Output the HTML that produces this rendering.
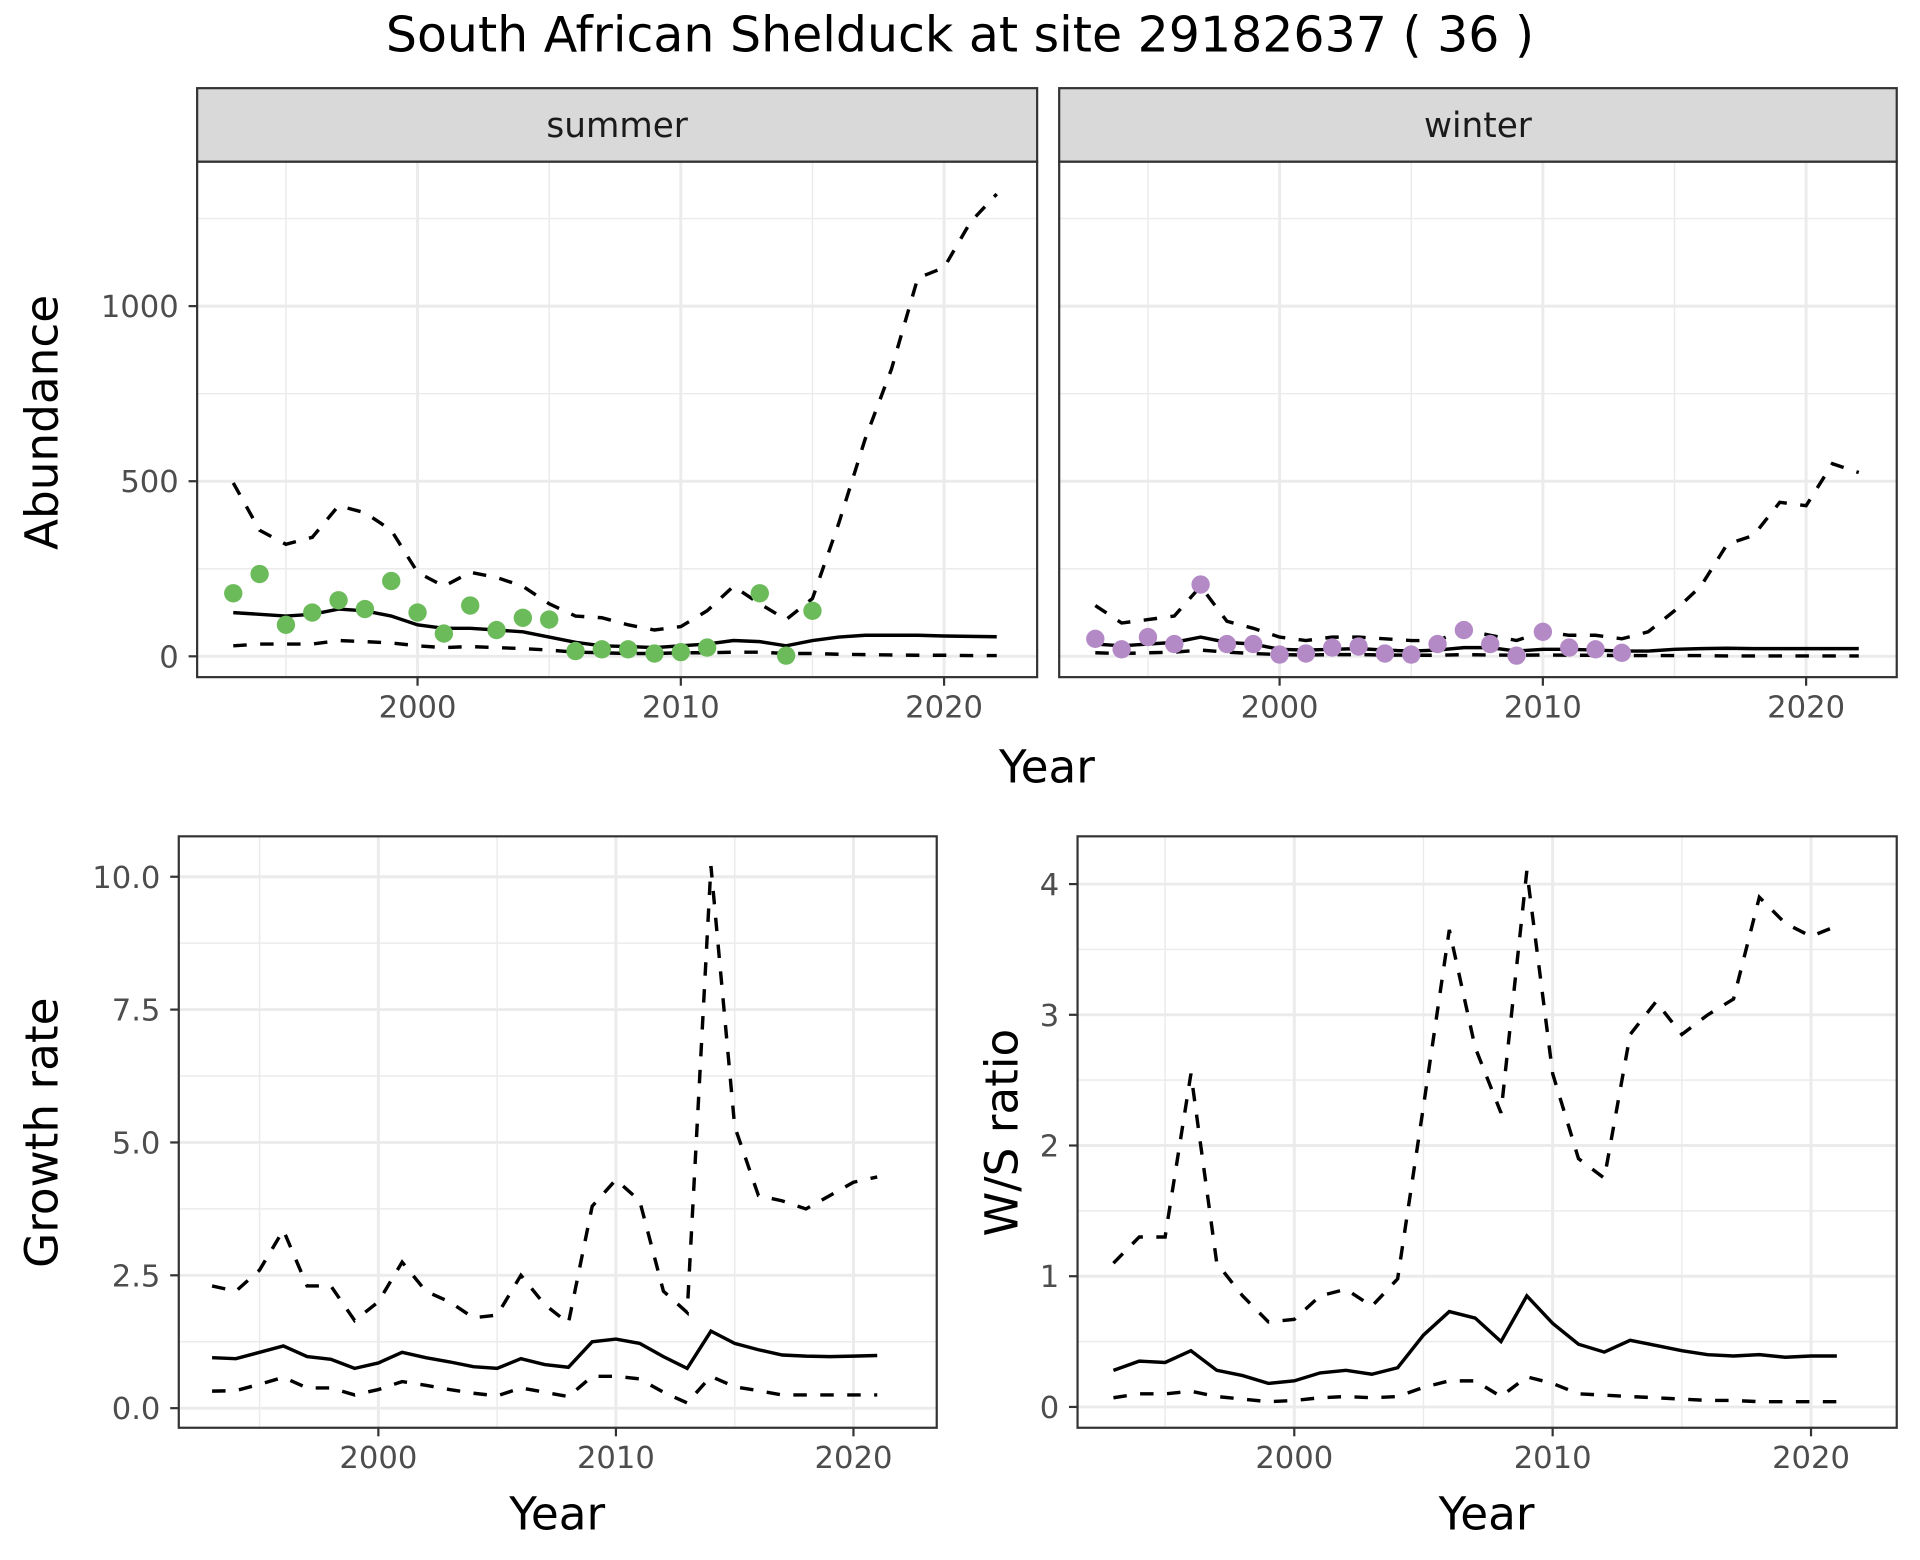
<!DOCTYPE html>
<html><head><meta charset="utf-8"><style>
html,body{margin:0;padding:0;background:#fff;}
svg{display:block;font-family:"DejaVu Sans","Liberation Sans",sans-serif;}
</style></head><body>
<svg id="chart" width="1920" height="1560" viewBox="0 0 1568 1274" xmlns="http://www.w3.org/2000/svg">
<text x="784" y="42" text-anchor="middle" font-size="40" fill="#000">South African Shelduck at site 29182637 ( 36 )</text>
</svg>
<script>
const yearsFull = [1993,1994,1995,1996,1997,1998,1999,2000,2001,2002,2003,2004,2005,2006,2007,2008,2009,2010,2011,2012,2013,2014,2015,2016,2017,2018,2019,2020,2021,2022];
const summerPtYears = [1993,1994,1995,1996,1997,1998,1999,2000,2001,2002,2003,2004,2005,2006,2007,2008,2009,2010,2011,2013,2014,2015];
const summerPtVals = [180,235,90,125,160,135,215,125,65,145,75,110,105,15,20,20,8,12,25,180,2,130];
const summerMean = [125,120,115,120,135,130,115,90,80,80,75,70,55,40,30,28,25,30,35,45,42,30,45,55,60,60,60,58,57,56];
const summerUpper = [495,360,320,340,430,410,360,240,200,240,225,200,150,115,110,90,75,85,130,200,150,105,165,380,620,820,1080,1110,1240,1320];
const summerLower = [30,35,35,35,45,42,38,30,25,28,25,22,18,12,10,8,8,10,10,12,12,8,8,6,5,4,3,3,2,2];
const winterPtYears = [1993,1994,1995,1996,1997,1998,1999,2000,2001,2002,2003,2004,2005,2006,2007,2008,2009,2010,2011,2012,2013];
const winterPtVals = [50,20,55,35,205,35,35,5,8,25,28,8,5,35,75,35,2,70,25,20,10];
const winterMean = [35,30,35,40,55,40,35,20,18,20,22,18,15,18,25,25,15,20,20,18,15,15,20,22,23,22,22,22,22,22];
const winterUpper = [145,95,105,115,200,100,80,55,45,55,55,50,45,45,75,60,45,70,60,60,50,70,130,200,320,345,440,430,550,525];
const winterLower = [10,8,10,12,18,12,8,5,4,5,5,4,3,3,5,4,3,4,3,3,2,2,2,2,1,1,1,1,1,1];
const yearsRate = [1993,1994,1995,1996,1997,1998,1999,2000,2001,2002,2003,2004,2005,2006,2007,2008,2009,2010,2011,2012,2013,2014,2015,2016,2017,2018,2019,2020,2021];
const growthMean = [0.95,0.93,1.05,1.17,0.97,0.92,0.75,0.85,1.05,0.95,0.87,0.78,0.75,0.93,0.82,0.77,1.25,1.3,1.22,0.97,0.75,1.45,1.22,1.1,1.0,0.98,0.97,0.98,0.99];
const growthUpper = [2.3,2.2,2.6,3.35,2.3,2.3,1.65,2.0,2.75,2.2,2.0,1.7,1.75,2.5,1.95,1.6,3.8,4.3,3.9,2.2,1.8,10.2,5.3,4.0,3.9,3.75,4.0,4.25,4.35];
const growthLower = [0.32,0.33,0.45,0.58,0.38,0.38,0.25,0.35,0.5,0.43,0.35,0.28,0.23,0.38,0.3,0.22,0.6,0.6,0.55,0.3,0.1,0.6,0.4,0.33,0.25,0.25,0.25,0.25,0.25];
const ratioMean = [0.28,0.35,0.34,0.43,0.28,0.24,0.18,0.2,0.26,0.28,0.25,0.3,0.55,0.73,0.68,0.5,0.85,0.64,0.48,0.42,0.51,0.47,0.43,0.4,0.39,0.4,0.38,0.39,0.39];
const ratioUpper = [1.1,1.3,1.3,2.55,1.1,0.85,0.65,0.67,0.85,0.9,0.77,0.98,2.3,3.65,2.75,2.25,4.1,2.55,1.9,1.75,2.85,3.1,2.85,3.0,3.12,3.9,3.7,3.6,3.68];
const ratioLower = [0.07,0.1,0.1,0.12,0.08,0.06,0.04,0.05,0.07,0.08,0.07,0.08,0.15,0.2,0.2,0.08,0.23,0.18,0.1,0.09,0.08,0.07,0.06,0.05,0.05,0.04,0.04,0.04,0.04];
const xTicks = [2000,2010,2020];
const xMinor = [1995,2005,2015];
const abundTicks = [0,500,1000];
const abundMinor = [250,750,1250];
const growthTicks = [0,2.5,5,7.5,10];
const growthTickLabels = ["0.0","2.5","5.0","7.5","10.0"];
const ratioTicks = [0,1,2,3,4];

const svg = document.getElementById('chart');
const NS = 'http://www.w3.org/2000/svg';
function el(tag, attrs, parent){const e=document.createElementNS(NS,tag);for(const k in attrs)e.setAttribute(k,attrs[k]);(parent||svg).appendChild(e);return e;}
function lin(d0,d1,r0,r1){return v=>r0+(v-d0)*(r1-r0)/(d1-d0);}

function panel(o){
  const g=el('g',{});
  
  
  const x=lin(2000,2010,o.x2000,o.x2010), y=lin(o.yv0,o.yv1,o.yp0,o.yp1);
  o.yMinor.forEach(v=>{el('line',{x1:o.L,x2:o.R,y1:y(v),y2:y(v),stroke:'#ebebeb','stroke-width':1.2},g);});
  xMinor.forEach(v=>{el('line',{x1:x(v),x2:x(v),y1:o.T,y2:o.B,stroke:'#ebebeb','stroke-width':1.2},g);});
  o.yTicks.forEach(v=>{el('line',{x1:o.L,x2:o.R,y1:y(v),y2:y(v),stroke:'#ebebeb','stroke-width':2.4},g);});
  xTicks.forEach(v=>{el('line',{x1:x(v),x2:x(v),y1:o.T,y2:o.B,stroke:'#ebebeb','stroke-width':2.4},g);});
  const path=(xs,ys,dash,name)=>{const p=el('path',{d:xs.map((xx,i)=>(i?'L':'M')+x(xx).toFixed(1)+','+y(ys[i]).toFixed(1)).join(''),fill:'none',stroke:'#000','stroke-width':2.8,'stroke-dasharray':dash?'11,11':'none'},g);
    
    };
  path(o.xs,o.upper,true,o.name+'-upper-line');
  path(o.xs,o.lower,true,o.name+'-lower-line');
  path(o.xs,o.mean,false,o.name+'-mean-line');
  if(o.ptX){o.ptX.forEach((yy,i)=>{const c=el('circle',{cx:x(yy),cy:y(o.ptV[i]),r:7.5,fill:o.ptColor},g);
    
    });}
  el('rect',{x:o.L,y:o.T,width:o.R-o.L,height:o.B-o.T,fill:'none',stroke:'#333','stroke-width':1.8},g);
  if(o.showY){o.yTicks.forEach((v,i)=>{el('line',{x1:o.L-7,x2:o.L,y1:y(v),y2:y(v),stroke:'#333','stroke-width':1.8},g);
    const t=el('text',{x:o.L-15,y:y(v)+9,'text-anchor':'end','font-size':25,fill:'#4d4d4d'},g);t.textContent=o.yLabels?o.yLabels[i]:v;});}
  xTicks.forEach(v=>{el('line',{x1:x(v),x2:x(v),y1:o.B,y2:o.B+7,stroke:'#333','stroke-width':1.8},g);
    const t=el('text',{x:x(v),y:o.B+33,'text-anchor':'middle','font-size':25,fill:'#4d4d4d'},g);t.textContent=v;});
  if(o.strip){const s=el('rect',{x:o.L,y:72,width:o.R-o.L,height:o.T-72,fill:'#d9d9d9',stroke:'#333','stroke-width':1.8},g);
    
    
    const t=el('text',{x:(o.L+o.R)/2,y:112,'text-anchor':'middle','font-size':28,fill:'#1a1a1a'},g);t.textContent=o.strip;}
}
panel({name:'summer-panel',L:161,R:847,T:132,B:553,x2000:341,x2010:556,yv0:0,yv1:1000,yp0:536,yp1:250,yTicks:abundTicks,yMinor:abundMinor,showY:true,xs:yearsFull,mean:summerMean,upper:summerUpper,lower:summerLower,ptX:summerPtYears,ptV:summerPtVals,ptColor:'#6cbb5a',strip:'summer'});
panel({name:'winter-panel',L:865,R:1549,T:132,B:553,x2000:1045,x2010:1260,yv0:0,yv1:1000,yp0:536,yp1:250,yTicks:abundTicks,yMinor:abundMinor,showY:false,xs:yearsFull,mean:winterMean,upper:winterUpper,lower:winterLower,ptX:winterPtYears,ptV:winterPtVals,ptColor:'#b48ac6',strip:'winter'});
panel({name:'growth-panel',L:146,R:765,T:683,B:1166,x2000:309,x2010:503,yv0:0,yv1:10,yp0:1150,yp1:716,yTicks:growthTicks,yLabels:growthTickLabels,yMinor:[1.25,3.75,6.25,8.75],showY:true,xs:yearsRate,mean:growthMean,upper:growthUpper,lower:growthLower});
panel({name:'ratio-panel',L:880,R:1549,T:683,B:1166,x2000:1057,x2010:1268,yv0:0,yv1:4,yp0:1149,yp1:722,yTicks:ratioTicks,yMinor:[0.5,1.5,2.5,3.5],showY:true,xs:yearsRate,mean:ratioMean,upper:ratioUpper,lower:ratioLower});
function label(txt,x,y,rot,name){const t=el('text',{x:x,y:y,'text-anchor':'middle','font-size':37,fill:'#000',transform:rot?`rotate(-90 ${x} ${y})`:''});t.textContent=txt;
  
  }
label('Year',855,639,false,'top-x-axis-title');
label('Abundance',47,345,true,'abundance-axis-title');
label('Year',455,1249,false,'growth-x-axis-title');
label('Growth rate',47,925,true,'growth-axis-title');
label('Year',1214,1249,false,'ratio-x-axis-title');
label('W/S ratio',831,925,true,'ratio-axis-title');
</script>
</body></html>
